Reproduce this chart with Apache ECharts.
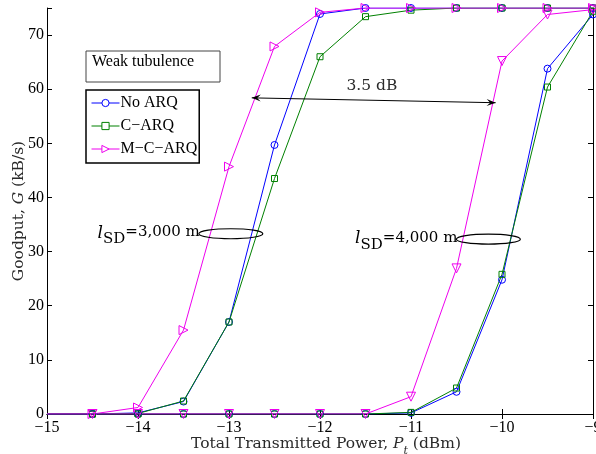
<!DOCTYPE html>
<html><head><meta charset="utf-8">
<script src="https://cdn.jsdelivr.net/npm/echarts@6/dist/echarts.min.js"></script>
<style>html,body{margin:0;padding:0;background:#fff}#c{width:596px;height:454px}</style>
</head><body><div id="c"></div>
<script>
// ---- data ----
const power = [-15, -14.5, -14, -13.5, -13, -12.5, -12, -11.5, -11, -10.5, -10, -9.5, -9];
const noArq3000  = [0, 0, 0.2, 2.3, 17.0, 49.7, 73.9, 75, 75, 75, 75, 75, 75];
const cArq3000   = [0, 0, 0.1, 2.4, 17.0, 43.5, 66.0, 73.4, 74.6, 75, 75, 75, 75];
const mcArq3000  = [0, 0, 1.2, 15.5, 45.7, 67.9, 74.2, 75, 75, 75, 75, 75, 75];
const noArq4000  = [0, 0, 0, 0, 0, 0, 0, 0, 0.2, 4.1, 24.8, 63.8, 73.8];
const cArq4000   = [0, 0, 0, 0, 0, 0, 0, 0, 0.3, 4.8, 25.8, 60.4, 74.4];
const mcArq4000  = [0, 0, 0, 0, 0, 0, 0, 0, 3.2, 26.9, 65.2, 73.8, 74.7];
const seriesNames = ['No ARQ', 'C\u2212ARQ', 'M\u2212C\u2212ARQ'];
const boxTitle = 'Weak tubulence';
const gapLabel = '3.5 dB';
const dist1 = '=3,000 m', dist2 = '=4,000 m';

const COLORS = ['#0000ff', '#008000', '#ee00ee'];
const SERIF = 'Liberation Serif';
const CM = 'DejaVu Serif';
const CMC = '#2a2a2a';

const chart = echarts.init(document.getElementById('c'), null, {renderer: 'canvas'});
const minus = v => String(v).replace('-', '\u2212');

function mk(name, vals, color, symbol, size, rot) {
  return {
    name: name, type: 'line',
    data: power.map((p, i) => i === 0 ? {value: [p, vals[i]], symbol: 'none'} : [p, vals[i]]),
    symbol: symbol, symbolSize: size, symbolRotate: rot, showAllSymbol: true,
    lineStyle: {color: color, width: 1},
    itemStyle: {color: 'rgba(255,255,255,0)', borderColor: color, borderWidth: 1},
    emphasis: {disabled: true}, animation: false, clip: true, z: 3
  };
}

const axisCommon = {
  axisLine: {lineStyle: {color: '#000', width: 1}},
  axisTick: {inside: true, length: 5, lineStyle: {color: '#000'}},
  splitLine: {show: false}
};

const option = {
  backgroundColor: '#fff',
  animation: false,
  grid: {left: 47, right: 3, top: 8, bottom: 40, outerBoundsMode: 'none', containLabel: false},
  xAxis: [
    Object.assign({type: 'value', min: -15, max: -9, interval: 1, position: 'bottom',
      axisLabel: {formatter: v => minus(v), color: '#000', fontFamily: SERIF, fontSize: 16, margin: 6},
      name: '{n|Total Transmitted Power, }{i|P}{s|t}{n| (dBm)}',
      nameLocation: 'middle', nameGap: 22, nameMoveOverlap: false,
      nameTextStyle: {color: CMC, padding: [0, 0, 0, 12], verticalAlign: 'top', rich: {
        n: {fontFamily: CM, fontSize: 15.5, color: CMC, verticalAlign: 'top', lineHeight: 18},
        i: {fontFamily: CM, fontSize: 15.5, fontStyle: 'italic', color: CMC, verticalAlign: 'top', lineHeight: 18},
        s: {fontFamily: CM, fontSize: 11, fontStyle: 'italic', color: CMC, verticalAlign: 'bottom', lineHeight: 21}
      }}
    }, axisCommon),
    Object.assign({type: 'value', min: -15, max: -9, interval: 1, position: 'top', axisLabel: {show: false}}, axisCommon)
  ],
  yAxis: [
    Object.assign({type: 'value', min: 0, max: 75, interval: 10, position: 'left',
      axisLabel: {formatter: v => (v > 70 ? '' : minus(v)), color: '#000', fontFamily: SERIF, fontSize: 16, margin: 3},
      name: 'Goodput, {i|G} (kB/s)', nameLocation: 'middle', nameGap: 20, nameMoveOverlap: false,
      nameTextStyle: {color: CMC, fontFamily: CM, fontSize: 15.5,
        rich: {i: {fontFamily: CM, fontSize: 15.5, fontStyle: 'italic', color: CMC}}}
    }, axisCommon),
    Object.assign({type: 'value', min: 0, max: 75, interval: 10, position: 'right', axisLabel: {show: false}}, axisCommon)
  ],
  legend: {
    orient: 'vertical', left: 86, top: 90,
    data: seriesNames.map((n, i) => ({name: n,
      itemStyle: {color: '#fff', borderColor: COLORS[i], borderWidth: 1},
      lineStyle: {color: COLORS[i], width: 1}})),
    itemWidth: 28, itemHeight: 9, itemGap: 7,
    padding: [5, 2, 6, 5],
    borderColor: '#000', borderWidth: 1.5, backgroundColor: '#fff',
    textStyle: {fontFamily: SERIF, fontSize: 16, color: '#000', padding: [0, 0, 0, -4]},
    selectedMode: false
  },
  series: [
    mk(seriesNames[0], noArq3000, COLORS[0], 'circle', 7, 0),
    mk(seriesNames[1], cArq3000, COLORS[1], 'rect', 6, 0),
    mk(seriesNames[2], mcArq3000, COLORS[2], 'triangle', 9, -90),
    mk(seriesNames[0], noArq4000, COLORS[0], 'circle', 7, 0),
    mk(seriesNames[1], cArq4000, COLORS[1], 'rect', 6, 0),
    mk(seriesNames[2], mcArq4000, COLORS[2], 'triangle', 9, 180)
  ]
};
chart.setOption(option);

// ---- annotations (positioned through the axes) ----
const arrowFrom = [-12.75, 58.4], arrowTo = [-10.07, 57.5];
const ell1 = [-12.98, 33.3], ell2 = [-10.15, 32.3];
const gapLabelAt = [-11.43, 60.6];
const px = p => chart.convertToPixel({gridIndex: 0}, p);

const a1 = px(arrowFrom), a2 = px(arrowTo);
const e1 = px(ell1), e2 = px(ell2);
const g = px(gapLabelAt);
const rx = 32, ry = 5;

function arrowHead(tip, from) {
  const ang = Math.atan2(tip[1] - from[1], tip[0] - from[0]);
  const L = 9, W = 3.5;
  const bx = tip[0] - L * Math.cos(ang), by = tip[1] - L * Math.sin(ang);
  const nx = -Math.sin(ang), ny = Math.cos(ang);
  const mx = tip[0] - 0.6 * L * Math.cos(ang), my = tip[1] - 0.6 * L * Math.sin(ang);
  return {type: 'polygon', z: 10, shape: {points: [tip, [bx + nx * W, by + ny * W], [mx, my], [bx - nx * W, by - ny * W]]},
    style: {fill: '#000'}};
}
const richDist = {
  it: {fontFamily: CM, fontSize: 17, fontStyle: 'italic', color: CMC, verticalAlign: 'top', lineHeight: 19},
  sub: {fontFamily: CM, fontSize: 15, color: CMC, verticalAlign: 'bottom', lineHeight: 22},
  n: {fontFamily: CM, fontSize: 15, color: CMC, verticalAlign: 'top', lineHeight: 19}
};

chart.setOption({
  graphic: [
    {type: 'rect', z: 10, shape: {x: 86, y: 51, width: 134, height: 31}, style: {fill: '#fff', stroke: '#444', lineWidth: 1}},
    {type: 'text', z: 11, x: 92, y: 54, style: {text: boxTitle, fontFamily: SERIF, fontSize: 16, fill: '#000'}},
    {type: 'line', z: 10, shape: {x1: a1[0], y1: a1[1], x2: a2[0], y2: a2[1]}, style: {stroke: '#000', lineWidth: 1}},
    arrowHead(a1, a2), arrowHead(a2, a1),
    {type: 'text', z: 10, x: g[0], y: g[1], style: {text: gapLabel, fontFamily: CM, fontSize: 15.5, fill: CMC, align: 'center', verticalAlign: 'middle'}},
    {type: 'ellipse', z: 10, shape: {cx: e1[0], cy: e1[1], rx: rx, ry: ry}, style: {fill: 'none', stroke: '#000', lineWidth: 1.2}},
    {type: 'ellipse', z: 10, shape: {cx: e2[0], cy: e2[1], rx: rx, ry: ry}, style: {fill: 'none', stroke: '#000', lineWidth: 1.2}},
    {type: 'text', z: 10, x: e1[0] - rx + 1, y: e1[1] + 2, style: {text: '{it|l}{sub|SD}{n|' + dist1 + '}', rich: richDist, align: 'right', verticalAlign: 'middle'}},
    {type: 'text', z: 10, x: e2[0] - rx + 1, y: e2[1] + 2, style: {text: '{it|l}{sub|SD}{n|' + dist2 + '}', rich: richDist, align: 'right', verticalAlign: 'middle'}}
  ]
});
</script>
</body></html>
